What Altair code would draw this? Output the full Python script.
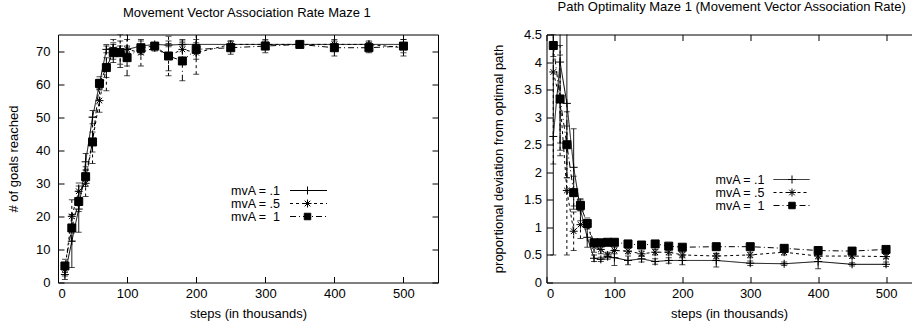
import altair as alt
import pandas as pd

FONT = "Liberation Sans"

steps = [10, 20, 30, 40, 50, 60, 70, 80, 90, 100, 120, 140, 160, 180, 200, 250, 300, 350, 400, 450, 500]
series_names = ["mvA = .1", "mvA = .5", "mvA =\u00a0 1"]

# Left chart: number of goals reached (mean, sd)
goals_01 = [2.4, 12.5, 22.2, 36.5, 50.0, 60.0, 70.5, 71.0, 70.5, 70.5, 71.5, 72.0, 71.8, 72.0, 72.0, 72.0, 72.0, 72.0, 72.0, 72.0, 72.0]
goals_01_sd = [1.5, 8.0, 7.0, 2.5, 2.0, 1.5, 1.0, 1.0, 1.0, 1.0, 0.5, 0.5, 0.5, 0.5, 0.5, 0.3, 0.3, 0.2, 0.3, 0.3, 0.3]
goals_05 = [4.0, 20.0, 27.6, 30.0, 43.0, 55.0, 65.0, 70.5, 70.0, 70.5, 69.5, 71.0, 68.5, 70.5, 69.5, 72.0, 72.0, 72.0, 72.0, 72.0, 71.0]
goals_05_sd = [2.0, 5.0, 2.5, 4.0, 7.0, 3.5, 7.0, 3.0, 5.0, 5.0, 4.0, 1.0, 6.0, 3.0, 6.5, 1.0, 1.0, 0.5, 1.0, 1.0, 2.5]
goals_1 = [5.0, 16.5, 24.5, 32.0, 42.5, 60.2, 65.0, 69.5, 69.5, 68.0, 71.0, 71.5, 68.5, 67.0, 70.5, 71.0, 71.5, 72.0, 71.0, 71.0, 71.5]
goals_1_sd = [2.0, 4.0, 3.0, 3.0, 3.0, 2.0, 3.0, 3.0, 3.5, 5.5, 2.0, 1.0, 4.5, 6.0, 3.0, 2.0, 2.0, 0.5, 2.5, 1.5, 2.0]

# Right chart: proportional deviation from optimal path (mean, sd)
dev_01 = [2.65, 4.0, 3.25, 2.09, 1.32, 0.82, 0.44, 0.42, 0.47, 0.45, 0.40, 0.43, 0.38, 0.40, 0.40, 0.40, 0.35, 0.34, 0.38, 0.33, 0.33]
dev_01_sd = [2.15, 1.6, 1.35, 0.7, 0.2, 0.18, 0.06, 0.04, 0.05, 0.14, 0.08, 0.06, 0.05, 0.05, 0.08, 0.12, 0.04, 0.03, 0.13, 0.03, 0.04]
dev_05 = [3.82, 3.3, 1.67, 0.93, 1.05, 1.07, 0.65, 0.60, 0.50, 0.58, 0.57, 0.52, 0.55, 0.55, 0.50, 0.48, 0.50, 0.55, 0.48, 0.48, 0.47]
dev_05_sd = [1.67, 1.0, 1.17, 0.35, 0.25, 0.1, 0.1, 0.08, 0.05, 0.06, 0.05, 0.05, 0.05, 0.05, 0.05, 0.05, 0.05, 0.05, 0.05, 0.04, 0.04]
dev_1 = [4.30, 3.33, 2.50, 1.63, 1.40, 1.07, 0.72, 0.72, 0.73, 0.73, 0.70, 0.68, 0.70, 0.66, 0.64, 0.65, 0.65, 0.62, 0.58, 0.57, 0.60]
dev_1_sd = [0.2, 0.8, 0.6, 0.3, 0.1, 0.05, 0.03, 0.03, 0.03, 0.03, 0.03, 0.03, 0.03, 0.03, 0.03, 0.03, 0.03, 0.03, 0.03, 0.03, 0.03]

left_title = "Movement Vector Association Rate Maze 1"
right_title = "Path Optimality Maze 1 (Movement Vector Association Rate)"
x_title = "steps (in thousands)"
left_y_title = "# of goals reached"
right_y_title = "proportional deviation from optimal path"

PLUS = "M-1,0H1M0,-1V1"
STAR = "M-1,0H1M0,-1V1M-0.7,-0.7L0.7,0.7M-0.7,0.7L0.7,-0.7"
dashes = [[1, 0], [3, 3], [6, 3, 1, 3]]
shapes = [PLUS, STAR, "square"]
fills = ["transparent", "transparent", "black"]
sizes = [64, 64, 42]


def make_df(means, sds):
    rows = []
    for name, m, s in zip(series_names, means, sds):
        for x, v, e in zip(steps, m, s):
            rows.append({"x": x, "y": v, "lo": v - e, "hi": v + e, "series": name})
    return pd.DataFrame(rows)


def panel(df, title, ytitle, xdomain, ydomain, yticks, width, height, legend_pos, right_side,
          title_dx, ylab_pad, ytitle_pad):
    sdom = series_names
    tick_ax = dict(labels=False, title=None, grid=False, domain=False, ticks=True,
                   tickSize=6, offset=-6, tickColor="black")
    dom_ax = dict(labels=False, title=None, grid=False, domain=True, ticks=False,
                  offset=0, domainColor="black")
    xs = alt.Scale(domain=xdomain, nice=False, zero=False)
    ys = alt.Scale(domain=ydomain, nice=False)

    main_x = alt.Axis(values=[0, 100, 200, 300, 400, 500], grid=False, domain=False,
                      tickSize=6, offset=-6, labelPadding=4.5, title=x_title,
                      titlePadding=7.5, tickColor="black")
    main_y = alt.Axis(values=yticks, grid=False, domain=False, tickSize=6, offset=-6,
                      labelPadding=ylab_pad, title=ytitle, titlePadding=ytitle_pad,
                      tickColor="black", labelExpr="'' + datum.value")

    base = alt.Chart(df)
    lines = base.mark_line(color="black", strokeWidth=1, clip=True).encode(
        x=alt.X("x:Q", scale=xs, axis=main_x),
        y=alt.Y("y:Q", scale=ys, axis=main_y),
        strokeDash=alt.StrokeDash("series:N", scale=alt.Scale(domain=sdom, range=dashes), legend=None),
        detail="series:N",
    )
    rules = base.mark_rule(color="black", strokeWidth=1, clip=True).encode(
        x=alt.X("x:Q", scale=xs, axis=alt.Axis(orient="top", values=[0, 100, 200, 300, 400, 500], **tick_ax)),
        y=alt.Y("lo:Q", scale=ys, axis=(alt.Axis(orient="right", values=yticks, **tick_ax) if right_side else None)),
        y2="hi:Q",
        strokeDash=alt.StrokeDash("series:N", scale=alt.Scale(domain=sdom, range=dashes), legend=None),
    )
    caps_lo = base.mark_tick(color="black", orient="horizontal", size=6, thickness=1, clip=True).encode(
        x=alt.X("x:Q", scale=xs, axis=alt.Axis(orient="bottom", **dom_ax)),
        y=alt.Y("lo:Q", scale=ys, axis=alt.Axis(orient="left", **dom_ax)),
    )
    caps_hi = base.mark_tick(color="black", orient="horizontal", size=6, thickness=1, clip=True).encode(
        x=alt.X("x:Q", scale=xs, axis=alt.Axis(orient="top", **dom_ax)),
        y=alt.Y("hi:Q", scale=ys, axis=(alt.Axis(orient="right", **dom_ax) if right_side else None)),
    )
    points = base.mark_point(stroke="black", strokeWidth=1, opacity=1, filled=False, clip=True).encode(
        x=alt.X("x:Q", scale=xs, axis=None),
        y=alt.Y("y:Q", scale=ys, axis=None),
        shape=alt.Shape("series:N", scale=alt.Scale(domain=sdom, range=shapes), legend=None),
        fill=alt.Fill("series:N", scale=alt.Scale(domain=sdom, range=fills), legend=None),
        size=alt.Size("series:N", scale=alt.Scale(domain=sdom, range=sizes), legend=None),
    )

    # in-plot key (gnuplot style: label, then line sample with marker)
    text_x, line_x0, line_x1, mark_x, row_y = legend_pos
    key_layers = []
    for i, name in enumerate(series_names):
        kd = alt.Chart(pd.DataFrame({"label": [name]}))
        key_layers.append(kd.mark_text(align="right", baseline="middle", font=FONT, fontSize=12.5,
                                       color="black").encode(
            text="label:N", x=alt.value(text_x), y=alt.value(row_y[i])))
        key_layers.append(kd.mark_rule(color="black", strokeWidth=1, strokeDash=dashes[i]).encode(
            x=alt.value(line_x0), x2=alt.value(line_x1), y=alt.value(row_y[i])))
        key_layers.append(kd.mark_point(shape=shapes[i], size=sizes[i], stroke="black", strokeWidth=1,
                                        opacity=1, fill=fills[i]).encode(
            x=alt.value(mark_x), y=alt.value(row_y[i])))

    return alt.layer(lines, rules, caps_lo, caps_hi, points, *key_layers).resolve_axis(
        x="independent", y="independent"
    ).properties(
        width=width, height=height,
        title=alt.TitleParams(title, font=FONT, fontSize=13, fontWeight="normal", color="black",
                              anchor="start", frame="group", offset=14.5, dx=title_dx),
    )


left = panel(make_df([goals_01, goals_05, goals_1], [goals_01_sd, goals_05_sd, goals_1_sd]),
             left_title, left_y_title, [0, 550], [0, 75], [0, 10, 20, 30, 40, 50, 60, 70],
             380, 248, (222, 232, 269, 249.5, [156, 169, 182]), True, 65, 8, 15.5)
right = panel(make_df([dev_01, dev_05, dev_1], [dev_01_sd, dev_05_sd, dev_1_sd]),
              right_title, right_y_title, [0, 537.5], [0, 4.5],
              [0, 0.5, 1, 1.5, 2, 2.5, 3, 3.5, 4, 4.5],
              365, 248, (218, 227, 263, 245.5, [145, 158, 171]), False, 11, 5, 17.5)

chart = alt.hconcat(left, right, spacing=53.5).properties(
    padding={"left": 7, "top": 0.5, "right": 0, "bottom": 0}
).configure_view(stroke=None).configure_axis(
    labelFont=FONT, titleFont=FONT, labelFontSize=13, titleFontSize=13,
    titleFontWeight="normal", labelColor="black", titleColor="black"
)

chart.save("out.html", embed_options={"renderer": "svg", "actions": False})
